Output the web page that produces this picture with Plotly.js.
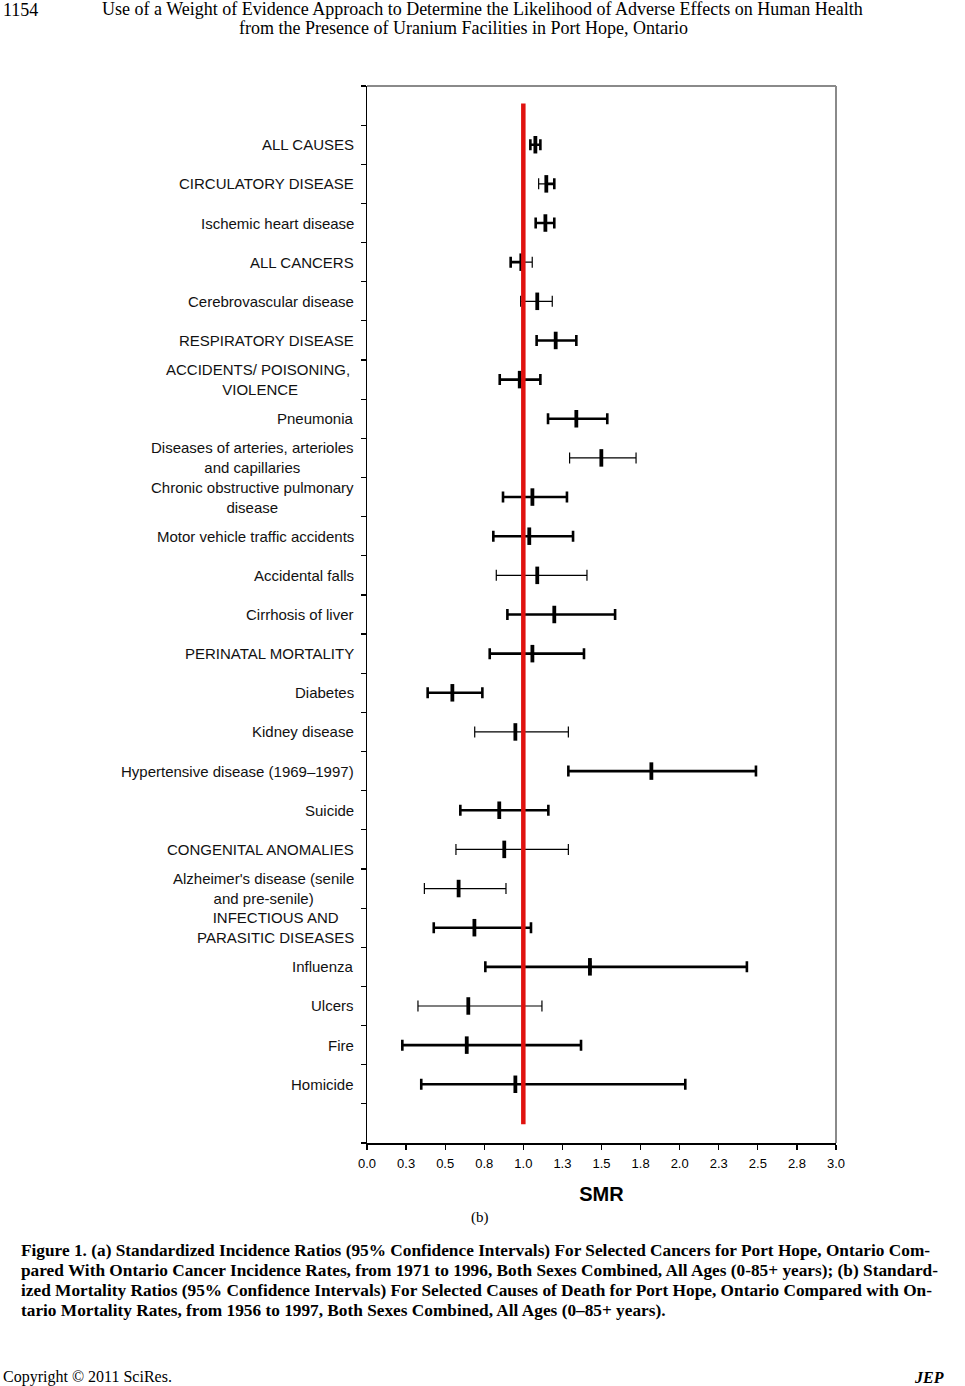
<!DOCTYPE html>
<html>
<head>
<meta charset="utf-8">
<script src="https://cdn.plot.ly/plotly-3.0.1.min.js"></script>
<style>
html,body{margin:0;padding:0;background:#fff;}
#chart{width:965px;height:1386px;}
</style>
</head>
<body>
<div id="chart"></div>
<script>
// ---------------- data ----------------
const categories = [
  "ALL CAUSES",
  "CIRCULATORY DISEASE",
  "Ischemic heart disease",
  "ALL CANCERS",
  "Cerebrovascular disease",
  "RESPIRATORY DISEASE",
  "ACCIDENTS/ POISONING, <br>VIOLENCE",
  "Pneumonia",
  "Diseases of arteries, arterioles<br>and capillaries",
  "Chronic obstructive pulmonary<br>disease",
  "Motor vehicle traffic accidents",
  "Accidental falls",
  "Cirrhosis of liver",
  "PERINATAL MORTALITY",
  "Diabetes",
  "Kidney disease",
  "Hypertensive disease (1969–1997)",
  "Suicide",
  "CONGENITAL ANOMALIES",
  "Alzheimer's disease (senile<br>and pre-senile)",
  "INFECTIOUS AND<br>PARASITIC DISEASES",
  "Influenza",
  "Ulcers",
  "Fire",
  "Homicide"
];
const smr   = [1.077, 1.147, 1.141, 0.987, 1.089, 1.207, 0.977, 1.339, 1.499, 1.058, 1.038, 1.089, 1.198, 1.058, 0.546, 0.949, 1.819, 0.846, 0.878, 0.586, 0.687, 1.426, 0.648, 0.638, 0.949];
const lower = [1.045, 1.098, 1.079, 0.919, 0.983, 1.085, 0.849, 1.158, 1.296, 0.870, 0.808, 0.827, 0.898, 0.785, 0.388, 0.689, 1.288, 0.597, 0.569, 0.367, 0.427, 0.757, 0.326, 0.226, 0.347];
const upper = [1.109, 1.198, 1.198, 1.057, 1.185, 1.339, 1.109, 1.537, 1.721, 1.279, 1.318, 1.407, 1.587, 1.388, 0.738, 1.288, 2.488, 1.160, 1.288, 0.889, 1.049, 2.430, 1.119, 1.369, 2.036];
const xTickVals = [0, 0.25, 0.5, 0.75, 1, 1.25, 1.5, 1.75, 2, 2.25, 2.5, 2.75, 3];
const xTickText = ["0.0","0.3","0.5","0.8","1.0","1.3","1.5","1.8","2.0","2.3","2.5","2.8","3.0"];
const referenceSMR = 1;
const xTitle = "SMR";
const panelLabel = "(b)";
const pageNumber = "1154";
const headerLines = [
  "Use of a Weight of Evidence Approach to Determine the Likelihood of Adverse Effects on Human Health",
  "from the Presence of Uranium Facilities in Port Hope, Ontario"
];
const captionLines = [
  "Figure 1. (a) Standardized Incidence Ratios (95% Confidence Intervals) For Selected Cancers for Port Hope, Ontario Com-",
  "pared With Ontario Cancer Incidence Rates, from 1971 to 1996, Both Sexes Combined, All Ages (0-85+ years); (b) Standard-",
  "ized Mortality Ratios (95% Confidence Intervals) For Selected Causes of Death for Port Hope, Ontario Compared with On-",
  "tario Mortality Rates, from 1956 to 1997, Both Sexes Combined, All Ages (0–85+ years)."
];
const footerLeft = "Copyright © 2011 SciRes.";
const footerRight = "JEP";

// ---------------- styling (kept apart from data) ----------------
const thinLowerRows = [1, 4, 8, 11, 15, 18, 19, 22];
const thinUpperRows = [3, 4, 8, 11, 15, 18, 19, 22];

const L = 367, R = 836, T = 86, B = 1143, PW = 965, PH = 1386;
const px = v => (v - L) / (R - L);
const py = v => (B - v) / (B - T);
const SANS = "Liberation Sans, Arial, sans-serif";
const SERIF = "Liberation Serif, Times New Roman, serif";

const n = categories.length;
const slots = n + 2;
const ypos = categories.map((c, i) => i + 1.5);

const traces = [];
function sideTrace(side, thin) {
  const thinSet = side === 'minus' ? thinLowerRows : thinUpperRows;
  const idx = [];
  for (let i = 0; i < n; i++) {
    if (thinSet.includes(i) === thin) idx.push(i);
  }
  if (!idx.length) return;
  traces.push({
    type: 'scatter', mode: 'markers',
    x: idx.map(i => smr[i]),
    y: idx.map(i => ypos[i]),
    marker: {size: 1, opacity: 0},
    hoverinfo: 'skip', showlegend: false,
    error_x: {
      type: 'data', symmetric: false, visible: true,
      array: idx.map(i => side === 'plus' ? upper[i] - smr[i] : 0),
      arrayminus: idx.map(i => side === 'minus' ? smr[i] - lower[i] : 0),
      color: '#000', thickness: thin ? 1.2 : 2.6, width: 5.5
    }
  });
}
sideTrace('minus', true);
sideTrace('minus', false);
sideTrace('plus', true);
sideTrace('plus', false);

traces.push({
  type: 'scatter', mode: 'markers',
  x: smr, y: ypos,
  text: categories,
  marker: {symbol: 'line-ns-open', size: 12.5, line: {width: 3.8, color: '#000'}, color: '#000'},
  showlegend: false
});

const annotations = [];
categories.forEach((c, i) => {
  annotations.push({
    xref: 'paper', yref: 'y', x: 0, y: ypos[i], xshift: -11,
    xanchor: 'right', yanchor: 'middle', align: 'center',
    text: c, showarrow: false,
    font: {family: SANS, size: 15, color: '#111'}
  });
});

annotations.push({xref:'paper', yref:'paper', x: px(480), y: py(1217), text: panelLabel, showarrow:false,
  xanchor:'center', yanchor:'middle', font:{family:SERIF, size:15, color:'#000'}});
annotations.push({xref:'paper', yref:'paper', x: px(1), y: py(10), text: pageNumber, showarrow:false,
  xanchor:'left', yanchor:'middle', font:{family:SERIF, size:18, color:'#000'}});
annotations.push({xref:'paper', yref:'paper', x: px(482), y: py(8.5), text: headerLines[0], showarrow:false,
  xanchor:'center', yanchor:'middle', font:{family:SERIF, size:18, color:'#000'}});
annotations.push({xref:'paper', yref:'paper', x: px(463), y: py(27.5), text: headerLines[1], showarrow:false,
  xanchor:'center', yanchor:'middle', font:{family:SERIF, size:18, color:'#000'}});
captionLines.forEach((t, i) => {
  annotations.push({xref:'paper', yref:'paper', x: px(19), y: py(1250 + i * 20.3), text: '<b>' + t + '</b>', showarrow:false,
    xanchor:'left', yanchor:'middle', font:{family:SERIF, size:17.3, color:'#000'}});
});
annotations.push({xref:'paper', yref:'paper', x: px(1), y: py(1377), text: footerLeft, showarrow:false,
  xanchor:'left', yanchor:'middle', font:{family:SERIF, size:16, color:'#000'}});
annotations.push({xref:'paper', yref:'paper', x: px(946), y: py(1377), text: '<b><i>' + footerRight + '</i></b>', showarrow:false,
  xanchor:'right', yanchor:'middle', font:{family:SERIF, size:16, color:'#000'}});

const shapes = [
  {type:'line', xref:'paper', yref:'paper', x0:0, x1:1, y0:1, y1:1, line:{color:'#8a8a8a', width:2}},
  {type:'line', xref:'paper', yref:'paper', x0:1, x1:1, y0:0, y1:1, line:{color:'#8a8a8a', width:2}},
  {type:'line', xref:'x', yref:'y', x0:referenceSMR, x1:referenceSMR, y0:0.45, y1:slots - 0.48,
   line:{color:'#e0120f', width:4.5}, layer:'above'}
];

const layout = {
  width: PW, height: PH,
  margin: {l: L, r: PW - R, t: T, b: PH - B, pad: 0},
  paper_bgcolor: '#fff', plot_bgcolor: '#fff',
  showlegend: false,
  xaxis: {
    range: [0, 3], tickmode: 'array', tickvals: xTickVals, ticktext: xTickText,
    ticks: 'outside', ticklen: 5, tickwidth: 1.2, tickcolor: '#000',
    ticklabelstandoff: 3,
    showline: true, linecolor: '#000', linewidth: 1.5, showgrid: false, zeroline: false,
    tickfont: {family: SANS, size: 13, color: '#000'},
    title: {text: '<b>' + xTitle + '</b>', font: {family: SANS, size: 20, color: '#000'}, standoff: 17},
    fixedrange: true
  },
  yaxis: {
    range: [slots, 0], tickmode: 'linear', tick0: 0, dtick: 1,
    ticks: 'outside', ticklen: 5, tickwidth: 1.2, tickcolor: '#000',
    showticklabels: false,
    showline: true, linecolor: '#000', linewidth: 1.5, showgrid: false, zeroline: false,
    fixedrange: true
  },
  annotations: annotations,
  shapes: shapes
};

Plotly.newPlot('chart', traces, layout, {displayModeBar: false, staticPlot: true});
</script>
</body>
</html>
